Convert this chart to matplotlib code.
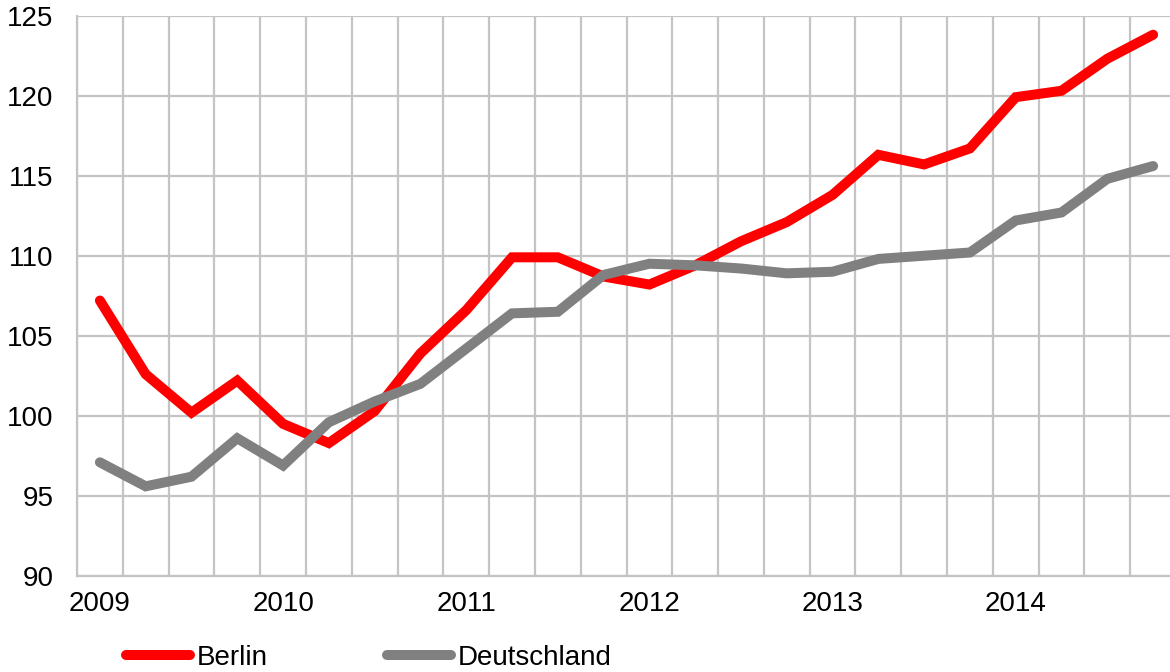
import matplotlib
matplotlib.use("Agg")
import matplotlib.pyplot as plt
from matplotlib.ticker import MultipleLocator, FixedLocator

plt.rcParams['font.family'] = ['Liberation Sans', 'DejaVu Sans']

years = ["2009", "2010", "2011", "2012", "2013", "2014"]
berlin = [107.2, 102.6, 100.2, 102.2, 99.5, 98.3, 100.3, 103.9,
          106.6, 109.9, 109.9, 108.7, 108.2, 109.4, 110.9, 112.1,
          113.8, 116.3, 115.7, 116.7, 119.9, 120.3, 122.3, 123.8]
deutschland = [97.1, 95.6, 96.2, 98.6, 96.9, 99.6, 100.9, 102.0,
               104.2, 106.4, 106.5, 108.8, 109.5, 109.4, 109.2, 108.9,
               109.0, 109.8, 110.0, 110.2, 112.2, 112.7, 114.8, 115.6]
series_names = ["Berlin", "Deutschland"]
colors = ["#FF0000", "#808080"]

fig = plt.figure(figsize=(11.7, 6.72), dpi=100)
ax = fig.add_axes([77/1170, 1 - 576/672, (1176 - 77)/1170, (576 - 15.5)/672])

n = len(berlin)
x = list(range(n))
for vals, name, c in zip([berlin, deutschland], series_names, colors):
    ax.plot(x, vals, color=c, lw=7.2, solid_capstyle='round',
            solid_joinstyle='miter', label=name, zorder=3)

ax.set_xlim(-0.5, n - 0.5)
ax.set_ylim(90, 125)
ax.yaxis.set_major_locator(MultipleLocator(5))
ax.xaxis.set_major_locator(FixedLocator(list(range(0, n, 4))))
ax.set_xticklabels(years)
ax.xaxis.set_minor_locator(FixedLocator([i + 0.5 for i in range(-1, n)]))
ax.grid(False)
ax.grid(True, axis='y', which='major', color='#C4C4C4', lw=1.6, zorder=1)
ax.grid(True, axis='x', which='minor', color='#C4C4C4', lw=1.6, zorder=1)
ax.tick_params(axis='both', which='both', length=0, labelsize=20, colors='black')
ax.tick_params(axis='y', pad=17)
ax.tick_params(axis='x', pad=11)
for s in ['top', 'right']:
    ax.spines[s].set_visible(False)
for s in ['left', 'bottom']:
    ax.spines[s].set_color('#C4C4C4')
    ax.spines[s].set_linewidth(1.6)

leg = fig.legend(loc='center left', bbox_to_anchor=(126/1170, 1 - 658/672), ncol=2,
                 frameon=False, fontsize=20, handlelength=2.3, handletextpad=0.25,
                 columnspacing=4.3, borderaxespad=0, borderpad=0)
for line in leg.get_lines():
    line.set_linewidth(7.2)
    line.set_solid_capstyle('round')

fig.savefig("out.png", dpi=100)
